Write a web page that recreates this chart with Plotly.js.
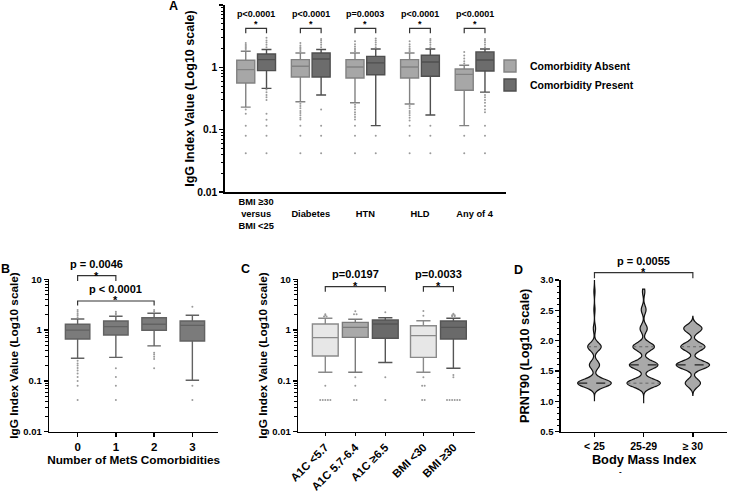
<!DOCTYPE html>
<html><head><meta charset="utf-8">
<script src="https://cdn.plot.ly/plotly-3.0.1.min.js"></script>
<style>html,body{margin:0;padding:0;background:#fff}#chart{width:730px;height:496px}</style>
</head><body><div id="chart"></div>
<script>
// ================= DATA =================
// Panel A: IgG index by comorbidity (absent vs present)
const catsA = ['BMI ≥30<br>versus<br>BMI <25', '\u00a0<br>Diabetes<br>\u00a0', '\u00a0<br>HTN<br>\u00a0', '\u00a0<br>HLD<br>\u00a0', '\u00a0<br>Any of 4<br>\u00a0'];
const pA = ['p<0.0001', 'p<0.0001', 'p=0.0003', 'p<0.0001', 'p<0.0001'];
const absQ1  = [0.56, 0.70, 0.675, 0.675, 0.43];
const absMed = [0.92, 1.04, 1.01, 1.01, 0.77];
const absQ3  = [1.30, 1.33, 1.33, 1.33, 0.94];
const absLo  = [0.23, 0.28, 0.27, 0.258, 0.116];
const absHi  = [1.81, 1.70, 1.70, 1.70, 1.08];
const preQ1  = [0.885, 0.70, 0.76, 0.72, 0.875];
const preMed = [1.33, 1.36, 1.18, 1.22, 1.31];
const preQ3  = [1.64, 1.70, 1.50, 1.56, 1.77];
const preLo  = [0.46, 0.36, 0.116, 0.172, 0.40];
const preHi  = [1.93, 1.93, 1.97, 1.97, 1.97];
const absOut = [
  [0.21, 0.18, 0.116, 0.08, 0.042, 1.9, 2.0, 2.1, 2.2, 2.3, 2.46],
  [0.26, 0.24, 0.22, 0.2, 0.185, 0.17, 0.155, 0.145, 0.116, 0.08, 0.042, 1.8, 1.9, 2.0, 2.1, 2.25, 2.46],
  [0.25, 0.23, 0.21, 0.19, 0.175, 0.16, 0.145, 0.116, 0.08, 0.042, 1.8, 1.9, 2.0, 2.15, 2.35, 2.62],
  [0.24, 0.22, 0.2, 0.185, 0.17, 0.155, 0.14, 0.116, 0.08, 0.042, 1.8, 1.9, 2.0, 2.15, 2.35, 2.62],
  [0.08, 0.042, 1.15, 1.25, 1.38, 1.55, 1.77]
];
const preOut = [
  [0.44, 0.40, 0.36, 0.33, 0.30, 0.18, 0.144, 0.116, 0.08, 0.042, 2.1, 2.3, 2.5, 2.7, 2.97],
  [0.21, 0.116, 0.08, 0.042, 2.1, 2.3, 2.5, 2.7, 2.86],
  [0.08, 0.042, 2.1, 2.3, 2.5, 2.7, 2.9],
  [0.116, 0.08, 0.042, 2.1, 2.3, 2.5, 2.7, 2.86],
  [0.36, 0.33, 0.30, 0.27, 0.24, 0.21, 0.19, 0.116, 0.08, 0.042, 2.1, 2.3, 2.5, 2.7, 2.86]
];

// Panel B: number of MetS comorbidities
const catsB = ['0', '1', '2', '3'];
const q1B  = [0.67, 0.80, 0.99, 0.61];
const medB = [1.00, 1.17, 1.30, 1.24];
const q3B  = [1.30, 1.51, 1.75, 1.51];
const loB  = [0.28, 0.29, 0.49, 0.103];
const hiB  = [1.65, 1.87, 2.14, 1.96];
const outB = [
  [0.25, 0.22, 0.2, 0.18, 0.16, 0.14, 0.12, 0.1, 0.08, 0.042, 1.8, 1.95, 2.1, 2.3, 2.5],
  [0.177, 0.12, 0.08, 0.042, 2.0, 2.15, 2.3],
  [0.36, 0.33, 0.30, 0.27, 0.177, 2.3, 2.5],
  [0.08, 0.042, 2.88]
];
const pB = ['p = 0.0046', 'p < 0.0001'];

// Panel C: A1C and BMI groups
const catsC = ['A1C <5.7', 'A1C 5.7-6.4', 'A1C ≥6.5', 'BMI <30', 'BMI ≥30'];
const q1C  = [0.31, 0.72, 0.69, 0.29, 0.67];
const medC = [0.71, 1.13, 1.32, 0.78, 1.13];
const q3C  = [1.32, 1.42, 1.58, 1.22, 1.51];
const loC  = [0.148, 0.148, 0.23, 0.148, 0.177];
const hiC  = [1.71, 1.63, 1.75, 1.53, 1.71];
const outC = [
  [0.08, 0.042, 0.042, 0.042, 0.042, 0.042, 1.85, 1.85, 1.95, 2.05],
  [0.118, 0.08, 0.042, 0.042, 2.05, 2.05, 2.35],
  [0.118, 0.042, 2.24],
  [0.118, 0.08, 0.08, 0.042, 0.042, 1.92, 2.38],
  [0.13, 0.118, 0.042, 0.042, 0.042, 0.042, 0.042, 0.042, 1.88, 1.88, 1.95, 1.95, 2.02, 2.1]
];
const pC = ['p=0.0197', 'p=0.0033'];

// Panel D: PRNT90 (log10) by BMI, counts at each titre level
const catsD = ['< 25', '25-29', '≥ 30'];
const levelsD = [1.30, 1.60, 1.90, 2.20, 2.51, 2.81];
const countsD = [
  [30, 9, 12, 2, 1, 1],
  [14, 12, 9, 3, 2, 1],
  [5, 11, 8, 6, 0, 0]
];
const medD = [1.30, 1.60, 1.60];
const q1D  = [1.30, 1.30, 1.60];
const q3D  = [1.90, 1.90, 1.90];
const pD = 'p = 0.0055';

// ================= STYLE / LAYOUT CONSTANTS =================
const FONT = 'Liberation Sans, Arial, sans-serif';
const W = 730, H = 496;
const px = v => v / W, py = v => 1 - v / H;
const offA = 0.19, boxWA = 0.33, boxWB = 0.64, boxWC = 0.86, violW = 0.68, bwD = 0.066;
const posC = [0, 1, 2, 3.27, 4.27];
const spanD = [[1.0, 3.0], [0.97, 2.85], [1.1, 2.4]];
const dotStyle = {size: 2, color: '#9a9a9a'};

const traces = [];

function dots(groups, centers, dx, xa, ya) {
  const xs = [], ys = [];
  groups.forEach((vals, i) => {
    const counts = {}, seen = {};
    vals.forEach(v => counts[v] = (counts[v] || 0) + 1);
    vals.forEach(v => {
      const n = counts[v];
      const k = (seen[v] = (seen[v] || 0) + 1) - 1;
      xs.push(centers[i] + (k - (n - 1) / 2) * dx);
      ys.push(v);
    });
  });
  return {type: 'scatter', mode: 'markers', x: xs, y: ys, marker: dotStyle,
          showlegend: false, hoverinfo: 'skip', xaxis: xa, yaxis: ya, cliponaxis: false};
}

function boxTrace(o) {
  return Object.assign({type: 'box', orientation: 'v', boxpoints: false, whiskerwidth: 0.55,
    hoverinfo: 'skip', showlegend: false}, o);
}

// ---- Panel A ----
const xAbs = catsA.map((_, i) => i - offA);
const xPre = catsA.map((_, i) => i + offA);
traces.push(dots(absOut, xAbs, 0.04, 'x', 'y'));
traces.push(dots(preOut, xPre, 0.04, 'x', 'y'));
traces.push(boxTrace({name: 'Comorbidity Absent', x: xAbs, q1: absQ1, median: absMed, q3: absQ3,
  lowerfence: absLo, upperfence: absHi, width: boxWA, fillcolor: '#a7a7a7',
  line: {color: '#828282', width: 1.4}, xaxis: 'x', yaxis: 'y', showlegend: true}));
traces.push(boxTrace({name: 'Comorbidity Present', x: xPre, q1: preQ1, median: preMed, q3: preQ3,
  lowerfence: preLo, upperfence: preHi, width: boxWA, fillcolor: '#6c6c6c',
  line: {color: '#4f4f4f', width: 1.4}, xaxis: 'x', yaxis: 'y', showlegend: true}));

// ---- Panel B ----
const xB = catsB.map((_, i) => i);
traces.push(dots(outB, xB, 0.05, 'x2', 'y2'));
traces.push(boxTrace({name: 'MetS', x: xB, q1: q1B, median: medB, q3: q3B, lowerfence: loB,
  upperfence: hiB, width: boxWB, fillcolor: '#7b7b7b', line: {color: '#626262', width: 1.4},
  xaxis: 'x2', yaxis: 'y2'}));

// ---- Panel C ----
traces.push(dots(outC, posC, 0.085, 'x3', 'y3'));
const fillC = ['#e7e7e7', '#a9a9a9', '#6a6a6a', '#e7e7e7', '#6a6a6a'];
const lineC = ['#8a8a8a', '#7a7a7a', '#555555', '#8a8a8a', '#555555'];
catsC.forEach((c, i) => {
  traces.push(boxTrace({name: c, x: [posC[i]], q1: [q1C[i]], median: [medC[i]], q3: [q3C[i]],
    lowerfence: [loC[i]], upperfence: [hiC[i]], width: boxWC, fillcolor: fillC[i],
    line: {color: lineC[i], width: 1.4}, xaxis: 'x3', yaxis: 'y3'}));
});

// ---- Panel D ----
function expand(levels, counts) {
  const out = [];
  levels.forEach((l, i) => { for (let k = 0; k < counts[i]; k++) out.push(l); });
  return out;
}
function kde(s, bw, y) { let t = 0; for (const v of s) { const z = (y - v) / bw; t += Math.exp(-0.5 * z * z); } return t; }
const medX = [], medY = [], qX = [], qY = [];
catsD.forEach((c, i) => {
  const s = expand(levelsD, countsD[i]);
  traces.push({type: 'violin', name: c, x0: i, y: s, bandwidth: bwD, spanmode: 'manual', span: spanD[i],
    width: violW, scalegroup: 'g' + i, scalemode: 'width', points: false,
    fillcolor: '#a9a9a9', line: {color: '#111', width: 1.2}, box: {visible: false},
    meanline: {visible: false}, hoverinfo: 'skip', showlegend: false, xaxis: 'x4', yaxis: 'y4'});
  let mx = 0;
  for (let k = 0; k <= 400; k++) mx = Math.max(mx, kde(s, bwD, spanD[i][0] + (spanD[i][1] - spanD[i][0]) * k / 400));
  const hw = y => violW / 2 * kde(s, bwD, y) / mx * 0.97;
  medX.push(i - hw(medD[i]), i + hw(medD[i]), null); medY.push(medD[i], medD[i], null);
  [q1D[i], q3D[i]].forEach(q => { if (q !== medD[i]) { qX.push(i - hw(q), i + hw(q), null); qY.push(q, q, null); } });
});
traces.push({type: 'scatter', mode: 'lines', x: qX, y: qY, line: {color: '#666', width: 1, dash: 'dot'},
  showlegend: false, hoverinfo: 'skip', xaxis: 'x4', yaxis: 'y4'});
traces.push({type: 'scatter', mode: 'lines', x: medX, y: medY, line: {color: '#222', width: 1.3, dash: 'dash'},
  showlegend: false, hoverinfo: 'skip', xaxis: 'x4', yaxis: 'y4'});

// ================= AXES =================
const bold = (size) => ({family: FONT, size: size, color: '#000', weight: 'bold'});
const base = {showline: true, linecolor: '#000', linewidth: 1.6, showgrid: false, zeroline: false,
  ticks: 'outside', ticklen: 4, tickwidth: 1.4, tickcolor: '#000', fixedrange: true};
const minorLog = [];
[0.01, 0.1, 1].forEach(d => { for (let m = 2; m <= 9; m++) minorLog.push(+(m * d).toPrecision(3)); });
const logTickVals = [0.01, 0.1, 1, 10];
const logTickText = ['0.01', '0.1', '1', '10'];
const logY = Object.assign({}, base, {type: 'log', range: [-2, 1], tickmode: 'array',
  tickvals: logTickVals, ticktext: logTickText,
  minor: {tickmode: 'array', tickvals: minorLog, ticks: 'outside', ticklen: 2.5, tickwidth: 1, tickcolor: '#000', showgrid: false}});
const igTitle = 'IgG Index Value (Log10 scale)';

const layout = {
  width: W, height: H, autosize: false,
  margin: {l: 0, r: 0, t: 0, b: 0, pad: 0},
  paper_bgcolor: '#fff', plot_bgcolor: 'rgba(0,0,0,0)',
  font: {family: FONT, color: '#000'},
  boxmode: 'overlay', violinmode: 'overlay', showlegend: true,
  legend: {x: px(490), y: py(51.5), xanchor: 'left', yanchor: 'top', font: bold(10.5),
    bgcolor: 'rgba(0,0,0,0)', itemwidth: 30, tracegroupgap: 0},
  xaxis: Object.assign({}, base, {domain: [px(225), px(506)], range: [-0.57, 4.575], anchor: 'y',
    tickmode: 'array', tickvals: catsA.map((_, i) => i), ticktext: catsA, ticks: '', tickfont: bold(9.3)}),
  yaxis: Object.assign({}, logY, {domain: [py(192), py(5)], anchor: 'x', tickfont: bold(10.3),
    title: {text: igTitle, font: bold(12.5), standoff: 0}}),
  xaxis2: Object.assign({}, base, {domain: [px(49.3), px(218)], range: [-0.74, 3.67], anchor: 'y2',
    tickmode: 'array', tickvals: xB, ticktext: catsB, tickfont: bold(11.5),
    title: {text: 'Number of MetS Comorbidities', font: bold(11.8), standoff: 3}}),
  yaxis2: Object.assign({}, logY, {domain: [py(431.7), py(279.3)], anchor: 'x2', tickfont: bold(9.5),
    title: {text: igTitle, font: bold(11.8), standoff: 2}}),
  xaxis3: Object.assign({}, base, {domain: [px(298.3), px(475)], range: [-0.9, 4.99], anchor: 'y3',
    tickmode: 'array', tickvals: posC, ticktext: catsC, tickangle: -45, ticklen: 3, tickfont: bold(11.3)}),
  yaxis3: Object.assign({}, logY, {domain: [py(431.7), py(279.3)], anchor: 'x3', tickfont: bold(9.5),
    title: {text: igTitle, font: bold(11.8), standoff: 2}}),
  xaxis4: Object.assign({}, base, {domain: [px(561), px(727.3)], range: [-0.68, 2.70], anchor: 'y4',
    tickmode: 'array', tickvals: [0, 1, 2], ticktext: catsD, tickfont: bold(10.5),
    title: {text: 'Body Mass Index', font: bold(12.8), standoff: 3}}),
  yaxis4: Object.assign({}, base, {domain: [py(431.7), py(280)], anchor: 'x4', range: [0.5, 3.0],
    dtick: 0.5, tick0: 0.5, tickformat: '.1f', tickfont: bold(9.5),
    minor: {dtick: 0.1, ticks: 'outside', ticklen: 2.5, tickwidth: 1, tickcolor: '#000', showgrid: false},
    title: {text: 'PRNT90 (Log10 scale)', font: bold(12.8), standoff: 8}}),
  shapes: [], annotations: []
};

// ================= BRACKETS & P VALUES =================
function bracket(xref, x0, x1, topPx, legPx, label, textPx, starPx, size) {
  layout.shapes.push({type: 'path', xref: xref, yref: 'paper',
    path: `M ${x0},${py(legPx)} L ${x0},${py(topPx)} L ${x1},${py(topPx)} L ${x1},${py(legPx)}`,
    line: {color: '#333', width: 1.2}});
  layout.annotations.push({xref: xref, yref: 'paper', x: (x0 + x1) / 2, y: py(textPx), text: label,
    showarrow: false, font: bold(size), xanchor: 'center', yanchor: 'middle'});
  layout.annotations.push({xref: xref, yref: 'paper', x: (x0 + x1) / 2, y: py(starPx + 2.5), text: '*',
    showarrow: false, font: bold(size), xanchor: 'center', yanchor: 'middle'});
}
pA.forEach((p, i) => bracket('x', xAbs[i], xPre[i], 28.3, 33.3, p, 14, 21.5, 9));
bracket('x2', 0, 1, 275.7, 281, pB[0], 264.3, 273.3, 11);
bracket('x2', 0, 2, 301, 305.5, pB[1], 289.3, 297.7, 11);
bracket('x3', posC[0], posC[2], 286.7, 291.7, pC[0], 274.3, 283.3, 11);
bracket('x3', posC[3], posC[4], 286.7, 291.7, pC[1], 274.3, 283.3, 11);
bracket('x4', 0, 2, 272.7, 278.3, pD, 260.7, 269.3, 11);

// Panel letters
[['A', 173.5, 6], ['B', 6, 268.5], ['C', 245, 268.5], ['D', 518.5, 270]].forEach(([t, x, y]) => {
  layout.annotations.push({xref: 'paper', yref: 'paper', x: px(x), y: py(y), text: t, showarrow: false,
    font: bold(12.5), xanchor: 'center', yanchor: 'middle'});
});
layout.annotations.push({xref: 'paper', yref: 'paper', x: px(620), y: py(471), text: '-', showarrow: false,
  font: bold(8), xanchor: 'center', yanchor: 'middle'});

Plotly.newPlot('chart', traces, layout, {staticPlot: true, displayModeBar: false});
</script>
</body></html>
